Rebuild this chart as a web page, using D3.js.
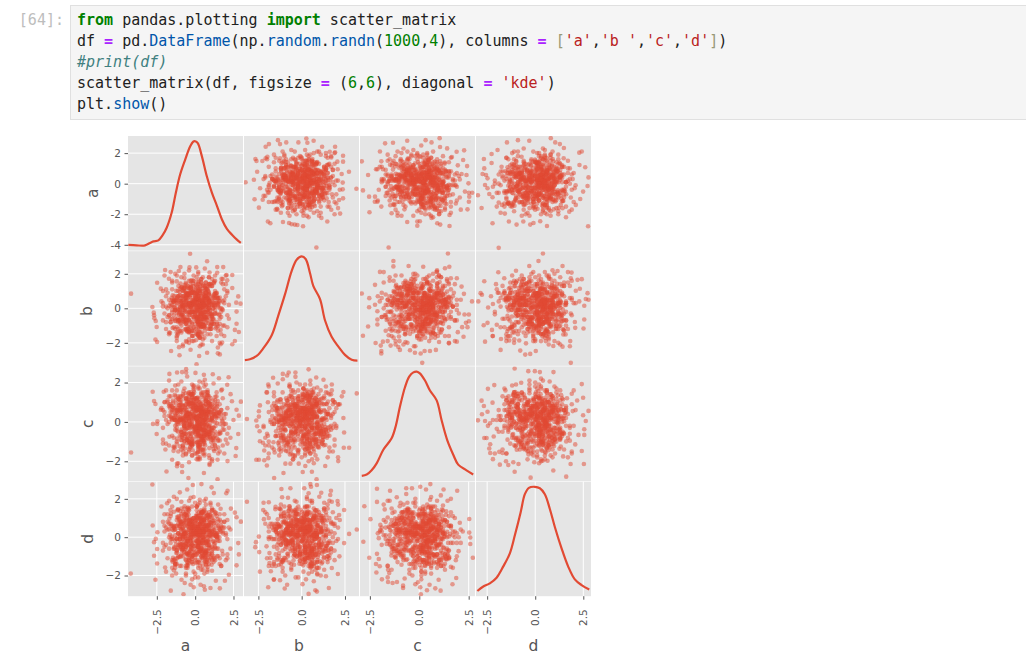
<!DOCTYPE html>
<html><head><meta charset="utf-8">
<script src="https://cdn.jsdelivr.net/npm/d3@7"></script>
<style>html,body{margin:0;padding:0;background:#fff}svg{display:block}text{white-space:pre}</style>
</head><body><script>
// ---------- notebook cell text ----------
const promptLabel = "[64]:";
const codeLines = [
 [["from","kw"],[" pandas.plotting ","tx"],["import","kw"],[" scatter_matrix","tx"]],
 [["df ","tx"],["=","op"],[" pd.","tx"],["DataFrame","fn"],["(np.","tx"],["random","fn"],[".","tx"],["randn","fn"],["(","tx"],["1000","nm"],[",","tx"],["4","nm"],["), columns ","tx"],["=","op"],[" ","tx"],["[","br"],["'a'","st"],[",","tx"],["'b '","st"],[",","tx"],["'c'","st"],[",","tx"],["'d'","st"],["]","br"],[")","tx"]],
 [["#print(df)","cm"]],
 [["scatter_matrix(df, figsize ","tx"],["=","op"],[" (","tx"],["6","nm"],[",","tx"],["6","nm"],["), diagonal ","tx"],["=","op"],[" ","tx"],["'kde'","st"],[")","tx"]],
 [["plt.","tx"],["show","fn"],["()","tx"]]
];
// ---------- variables and axes ----------
const columns = ["a","b ","c","d"];
const domains = [[-4.38,3.12],[-3.33,3.31],[-3.0,2.82],[-3.08,2.9]];
const xTicks = [-2.5,0,2.5];
const xTickLabels = ["\u22122.5","0.0","2.5"];
const yTicks = [[2,0,-2,-4],[2,0,-2],[2,0,-2],[2,0,-2]];
const yTickLabels = [["2","0","-2","-4"],["2","0","\u22122"],["2","0","\u22122"],["2","0","\u22122"]];
// ---------- KDE curves on the diagonal: value, density ----------
const kdeA = [[-4.36,.003],[-3.81,.001],[-3.27,.001],[-2.94,.011],[-2.72,.017],[-2.4,.021],[-2.14,.04],[-1.85,.073],[-1.53,.133],[-1.26,.213],[-.98,.286],[-.65,.346],[-.33,.399],[-.11,.419],[0,.42],[.17,.412],[.44,.359],[.76,.279],[1.09,.213],[1.42,.16],[1.74,.106],[2.07,.067],[2.4,.044],[2.72,.024],[2.98,.011]];
const kdeB = [[-3.28,.003],[-2.99,.006],[-2.6,.019],[-2.22,.048],[-1.73,.099],[-1.35,.175],[-.96,.258],[-.58,.347],[-.29,.391],[0,.404],[.23,.394],[.48,.34],[.67,.29],[1.06,.239],[1.35,.156],[1.73,.093],[2.12,.055],[2.5,.023],[2.89,.004],[3.22,.001]];
const kdeC = [[-2.91,.003],[-2.66,.008],[-2.41,.025],[-2.15,.054],[-1.82,.108],[-1.4,.154],[-1.18,.207],[-.98,.281],[-.72,.361],[-.51,.403],[-.3,.42],[-.13,.423],[.03,.416],[.29,.387],[.54,.347],[.88,.307],[1.13,.227],[1.41,.148],[1.72,.088],[1.97,.048],[2.39,.025],[2.73,.008]];
const kdeD = [[-3.01,.001],[-2.7,.019],[-2.36,.032],[-2.01,.055],[-1.66,.101],[-1.32,.154],[-1.06,.227],[-.76,.32],[-.54,.394],[-.33,.42],[-.02,.424],[.24,.418],[.5,.394],[.76,.334],[1.02,.261],[1.37,.174],[1.71,.101],[2.06,.048],[2.41,.025],[2.81,.007]];
// ---------- dense centre of the cloud: estimated rows, one value per column ----------
const coreA = [.12,-.43,.87,-1.05,.31,1.42,-.18,.64,-.77,.05,-1.36,.49,1.13,-.58,.22,-.91,.73,-.07,1.61,-.29,
-.66,.38,-1.22,.95,.16,-.34,1.27,-.82,.57,-.11,.83,-1.58,.27,-.49,1.04,.41,-.95,.09,-.25,.69,
.44,-1.12,.02,1.33,-.61,.76,-.2,-1.71,.53,.14,-.39,1.18,-.86,.29,.92,-.04,-1.29,.61,-.53,1.49,
-.15,.35,-.72,1.01,-.97,.19,.67,-1.44,.47,-.31,.08,1.24,-.64,.81,-.23,-1.03,.55,1.76,-.45,.11,
.98,-.79,.26,-1.17,.43,-.09,.71,-.56,1.36,.03,-1.51,.59,-.37,.89,-.13,1.09,-.69,.33,-.88,.17,
-1.25,.51,.78,-.27,1.55,-.48,.07,-.99,.37,1.21,-.62,.24,-1.39,.85,-.02,.63,-.76,1.07,-.35,.46,
.15,-.83,1.3,-.52,.39,-1.09,.93,-.16,.6,-1.64,.21,-.41,1.15,-.74,.01,.79,-1.2,.5,-.3,1.44,
-.57,.28,-.93,.69,-.06,1.66,-.44,.13,-1.31,.88,.34,-.68,1.03,-.22,.56,-1.01,.18,-.5,1.25,.42,
-.84,.74,-.12,1.12,-1.47,.3,-.33,.97,.06,-.6,1.39,-.89,.45,-.19,.66,-1.15,.23,.82,-.4,1.58,
.1,-.71,.52,-1.33,.91,-.26,.36,-1.06,1.19,-.47,.75,.04,-.92,.58,-.14,1.28,-.65,.2,-1.53,.4,
-.08,1.06,-.54,.32,-.98,.7,.16,-1.27,.86,-.36,1.47,-.75,.25,.54,-1.11,.01,-.46,1.0,-.21,.62,
.48,-1.41,.84,-.1,.29,-.8,1.22,-.59,.13,.94,-.28,-1.18,.68,-.42,1.35,.06,-.87,.57,-.17,.77,
-.63,.22,1.1,-1.0,.4,-.32,.9,-1.68,.53,-.05,.72,-.51,1.17,-.78,.31,-.24,1.52,-1.13,.44,.09,
.65,-.38,-.94,.27,1.31,-.55,.12,-1.23,.8,.47,-.7,.03,1.05,-.15,.59,-.85,.35,-1.46,.96,-.43,
.19,1.41,-.67,.08,-.3,.73,-1.08,.5,-.12,1.14,-.96,.38,.67,-.52,.24,-1.35,.87,-.2,.55,-.73,
.6,1.2,-.3,.4,-1.5,-.8,-.2,.9,1.7,-.5,.2,-1.1,-1.9,.3,1.4,.7,-.6,.1,-.4,-1.3,
-.9,-.1,1.0,.5,.2,-1.6,1.1,-.7,-.3,-1.2,.8,.3,1.5,2.0,-.2,-.5,.6,-2.1,.1,.4,
1.3,.9,-.4,-.6,-1.0,.2,.5,1.8,-.1,-1.4,-.8,.7,.3,-.2,-1.7,1.1,.6,.0,-.9,1.6,
-.3,-.7,.4,1.2,.1,.8,-1.2,-2.0,.5,.2,-.5,1.4,.9,-.1,-1.1,.3,-.6,2.1,.7,-.4,
.2,-1.5,-.3,.6,1.0,1.9,-.8,.1,-.2,.4,-1.3,.8,-.7,-.1,1.5,.3,-1.8,.5,.9,-.5,
-1.0,-.4,.7,.2,1.3,-.9,.0,-.6,1.7,.4,1.1,-1.6,-.2,.3,-.7,.6,.1,-1.2,2.2,.8,
.5,.1,-.8,-1.4,.3,1.6,-.3,.9,-.5,-2.2,.2,1.2,-.1,.7,-1.1,-.4,1.0,.4,-1.5,.6,
-.6,1.8,.3,-.2,-.9,.5,1.3,.1,-1.7,-.4,.8,.2,-1.0,1.5,-.3,.6,-.1,-1.3,.4,1.1,
.9,-.5,.0,2.0,-1.2,-.7,.6,.2,-.3,1.4,.4,-1.9,.1,.7,-.8,1.0,-.2,.3,-1.4,1.7,
-.1,.5,-1.1,.8,.2,-.6,1.2,-1.6,.4,.0,1.6,-.4,-.9,.3,.6,-1.3,1.9,-.2,.1,-.7,
.3,-.9,1.1,.6,-.5,-1.8,.2,.8,1.4,-.1,-.3,.5,-1.2,.7,2.1,-.6,.4,.0,-1.0,.9,
-1.5,.2,.7,-.4,1.3,.1,-.8,1.0,-.2,.5,-2.0,.3,1.6,-.7,.6,-.1,-1.1,1.2,.4,-.3,
.8,-.6,-1.3,.3,.1,1.5,-.4,.6,-1.7,.2,1.0,-.5,.9,-.2,.4,-1.0,1.8,.0,-.8,.5,
.2,1.3,-.1,-1.6,.7,-.3,.5,-.9,1.1,.3,-.6,1.9,-1.2,.1,.8,-.4,-1.4,.6,.2,1.4,
-.7,.4,.9,-.2,-1.1,1.2,.0,.3,-.5,-1.9,.6,1.7,.1,-.8,.5,-.3,1.0,-1.5,.2,.7,
.4,-1.2,.1,1.6,-.4,.8,-.7,.3,1.3,-.1,-1.4,.5,.2,-.9,1.1,.6,-2.1,-.3,.9,.0,
-.5,.7,-1.0,.2,1.5,-.6,.4,1.9,-.2,.1,-1.7,.8,-.4,1.2,.3,-1.1,.6,-.1,.5,-.8,
1.4,.1,-.3,-1.3,.6,.9,-.7,.2,-1.6,.4,1.1,-.2,.7,-.5,2.0,.3,-1.0,.0,.8,-.9,
-.2,1.7,.5,-.6,-1.2,.3,.9,-.4,.1,1.3,-1.8,.6,-.1,.4,-.7,1.0,.2,-1.5,1.6,-.3,
.7,-1.1,.2,.5,-.2,-.9,1.4,.1,.6,-1.3,-.4,.8,1.8,-.6,.3,-1.0,.0,1.1,-.5,.4];
const coreB = [-.56,.83,.14,-.29,1.37,-.92,.48,1.06,.03,-1.44,.71,-.17,-.65,.26,1.52,-.38,.09,-1.1,.62,.35,
1.19,-.74,.41,-.08,-1.27,.93,.2,-.51,-.99,1.28,.57,.11,-1.63,.78,-.33,.05,1.44,-.6,.87,-.22,
.3,1.02,-.45,-1.16,.67,.16,-.84,1.71,-.27,.52,-.69,.01,1.23,-1.38,.43,.89,-.13,-.57,.74,-1.02,
.95,-.31,1.11,.23,-.76,-.48,.6,.38,-1.5,.07,1.33,-.9,-.19,.55,1.62,-.66,.28,-.04,-1.21,.81,
-.12,.46,-1.33,.7,.18,1.08,-.53,-.82,.33,1.4,-.25,.63,-1.07,.02,.97,-.41,-.71,1.26,.13,-1.56,
.5,-.95,.24,1.17,-.36,.79,-1.19,.06,.58,-.63,1.48,-.15,.39,-.87,.92,-1.3,.21,-.44,.68,1.0,
-.78,.1,.85,-.54,-1.04,1.3,.34,-.23,.75,-1.42,.45,1.15,-.6,.17,-.89,.53,1.56,-.07,-1.12,.29,
.64,-.47,1.21,-.18,.4,-1.25,.04,.91,-.73,.36,-.02,1.35,-.97,.22,-.5,.77,-1.48,.59,.12,-.3,
1.05,-.85,.27,.66,-1.14,.49,-.39,1.42,-.09,-.68,.84,.15,-1.01,.32,1.18,-.58,.73,-.24,-1.36,.44,
-.16,.98,-.79,.08,.56,1.25,-1.09,-.35,.69,.19,-.62,1.09,-.46,.31,-1.6,.82,.0,-.93,.61,1.5,
.25,-1.18,.47,-.28,1.13,.72,-.55,-.1,.96,-1.29,.37,-.77,.54,1.32,-.06,-.42,.86,-1.05,.17,.65,
-.91,.42,1.03,-.2,-.7,.11,1.46,-1.24,.51,-.34,.78,.28,-.59,-1.4,.88,.05,1.2,-.49,.35,-.11,
.6,-1.08,.2,.94,-.32,-.8,1.38,.14,-.61,.47,1.12,-1.31,-.03,.7,-.43,.99,.26,-1.52,.39,-.75,
1.27,-.21,.58,-.96,.09,.83,-.52,1.01,-1.17,.33,-.14,.62,-.83,1.45,.24,-.37,-1.0,.76,.43,-.64,
.16,.9,-1.22,.55,-.26,1.1,-.72,.3,1.6,-.4,-.88,.07,.67,-1.34,.48,-.13,.8,.21,-.57,1.16,
-1.1,.3,.6,1.7,.2,-.4,-1.6,.5,-.2,.8,1.2,-.7,.1,-.9,-.3,1.5,.4,.9,-2.0,.0,
.7,-1.3,-.6,.2,-.1,2.1,.4,-.8,1.1,.3,-.5,-1.7,.6,1.4,-.2,.9,-1.0,.1,.5,-.4,
-.3,.8,1.6,-1.2,.5,-.7,.2,-.1,-1.9,.4,1.0,.7,-.6,.3,-1.4,1.3,.1,-.2,1.8,-.9,
1.2,.1,-.9,.6,-1.5,.3,-.3,1.9,.8,-.5,.2,-1.1,.0,.5,-.7,-2.2,.4,1.0,.9,-.2,
-.8,.5,.3,-.4,1.4,-1.0,.7,.1,-1.3,1.1,-.1,.6,2.0,-.6,.2,-1.7,.9,-.3,.4,.8,
.1,-.7,1.5,-1.6,.6,.4,-.2,.9,-.5,-1.1,1.7,.3,-.9,.0,.7,-.4,1.2,-1.4,.2,-.1,
-2.1,.8,-.3,.5,1.0,-.6,.1,-1.2,1.3,.4,-.8,.2,1.9,-.5,.7,.3,-1.5,.0,1.1,-.2,
.6,-1.0,.9,-.1,.3,-1.8,1.6,.5,-.4,.2,-.7,1.1,.4,-1.3,-.2,.8,.1,2.0,-.6,-.9,
1.4,-.3,.2,.7,-1.1,.5,-.5,1.0,.1,-1.6,.3,-.8,1.8,.6,-.1,-1.2,.9,.4,-.4,.0,
-.2,1.3,-1.4,.6,.1,-.9,.8,-.6,1.5,-.3,.4,2.2,-1.0,.2,-.7,.5,1.1,-1.9,.3,-.1,
.9,.4,-.5,-1.7,1.2,.0,.7,-.2,-.8,.3,1.6,-1.1,.5,.1,-.4,1.4,-.6,.8,-1.3,.2,
-.1,-1.5,.6,.3,1.9,-.7,.2,-1.0,.9,.5,-.3,.1,-2.0,1.2,.4,-.5,.7,1.5,-.9,.0,
.3,.8,-1.2,1.1,-.4,.6,-1.8,.1,.5,-.2,1.3,-.7,.9,.2,-1.4,-.1,1.7,.4,-.6,-1.0,
1.0,-.3,.4,-.8,.7,1.4,-.1,-1.3,.2,-.6,.9,.5,-1.6,.3,1.2,-.4,.1,-1.1,2.1,.6,
-.5,.2,1.8,.0,-1.2,.4,.7,-.9,-.2,1.1,.6,-1.5,.3,-.7,.1,.9,-.3,1.5,-1.0,.5,
.2,-1.9,.6,-.4,.8,1.3,-.6,.1,-.1,1.6,-1.1,.4,.7,-.3,-.8,.5,1.0,-1.4,.0,.3,
-1.2,.9,-.2,.5,.1,-.7,1.7,.3,-1.6,.6,-.4,1.1,.2,-.9,.8,-.1,1.3,-.5,.4,-2.1,
.7,.0,1.2,-.6,-1.0,.4,.2,1.4,-.8,.5,-.3,-1.3,.9,.1,1.9,-.2,-.7,.6,-1.5,.3,
-.4,1.5,.1,-.9,.6,-1.7,.8,.3,-.1,1.0,-.5,.2,-1.1,.7,.4,-1.2,1.6,-.6,.0,.9,
.5,-.8,.3,1.8,-.2,-1.4,.6,.1,.9,-.7,1.2,-.4,.4,-1.9,.2,-.1,.7,1.3,-1.0,-.3];
const coreC = [.33,.91,-.62,.08,-1.17,.44,1.25,-.29,-.83,.57,.19,-1.41,.76,-.05,1.03,-.52,.28,1.5,-.94,.12,
-.37,-.71,1.12,.49,.02,-1.28,.65,.86,-.16,-.55,1.37,.24,-1.03,.39,-.45,.7,.1,-1.6,.95,1.18,
-.88,.53,.17,-.21,1.46,-.66,-1.09,.31,.82,-.4,.04,1.09,-.77,.6,-1.33,.26,1.3,-.12,.47,-.96,
.72,-.34,-.58,1.21,.15,-1.2,.41,.98,-.73,-.09,.55,-1.48,.29,1.6,-.25,.84,-.6,.06,1.14,-1.05,
-.19,1.32,.37,-.85,.63,-.48,.01,1.07,-1.36,.22,.79,-.69,-.14,.5,1.41,-.31,-.99,.13,.68,-1.55,
.93,-.42,.21,-1.12,.46,.75,-.79,1.27,-.07,.35,-.61,1.0,-1.25,.58,-.27,.11,1.55,-.9,.4,-.5,
-1.02,.16,.89,.43,-.35,1.19,-.64,-1.44,.27,.71,-.18,.97,-.82,.05,.52,1.35,-.44,-1.14,.3,.78,
.61,-.23,-.92,1.05,.18,-.56,1.44,-.11,-1.3,.38,.86,-.74,.03,.67,-1.0,.25,-.47,1.23,.54,-.3,
-.67,1.1,.32,-1.22,.74,-.03,-.54,.92,.2,-1.65,1.29,-.39,.48,-.84,.13,.6,-.15,1.01,-1.07,.42,
.07,-.98,.56,1.38,-.28,-.76,.23,.83,-1.38,.45,-.59,1.16,-.08,.34,.94,-1.16,.69,-.43,.15,1.48,
-.24,.51,-1.08,.77,.09,-.65,1.24,.36,-.87,-.17,1.06,.62,-1.27,.19,-.5,.88,.28,-.7,1.34,-.04,
.4,-1.47,.99,-.33,.6,.14,-.8,1.15,-.2,.73,-1.1,.47,-.55,1.02,.24,-.38,-.93,.66,1.42,-.13,
.85,-.63,.12,-1.24,.53,.96,-.26,-.75,.38,1.2,-.46,.02,.7,-1.5,.31,1.11,-.6,.17,-.1,.81,
-1.19,.44,.64,-.36,1.28,-.89,.08,.55,-.68,1.36,-.22,.27,-1.02,.9,.49,-.53,.16,1.08,-.78,.33,
.59,-.06,-1.35,.74,.22,-.44,1.17,-.95,.37,.03,.87,-.72,1.52,-.32,-.57,.11,.79,-1.13,.5,-.2,
-.4,-1.0,.8,.2,.5,-1.7,-.1,1.3,.6,-.8,-.3,1.9,.1,-1.2,.9,.4,-.6,.0,1.5,-.2,
1.1,.7,-.5,-1.4,.3,.9,-2.0,.2,-.7,1.6,.5,-.1,-.9,.4,1.2,-.3,.1,-1.1,.6,.8,
.3,-.6,-1.5,.1,1.0,.7,-.2,-.4,1.8,.2,-1.3,.5,-.9,1.4,.0,.6,-.7,-1.6,.9,-.1,
-1.1,1.7,.4,-.3,.2,-.8,.6,1.0,-.5,-1.9,.3,.7,.1,-1.0,1.3,-.2,.5,-.6,.9,.4,
.0,.6,-1.3,1.2,-.4,.2,.8,-.7,-1.2,.5,.1,1.5,-.3,.9,-1.6,.3,-.1,2.0,-.5,-.9,
.7,-.2,.4,-1.4,1.1,.1,-.6,.3,1.6,-1.0,-.4,.8,.2,-1.8,.6,-.7,1.2,.0,-.3,.5,
-.8,.9,.2,.6,-1.1,-.5,1.4,.3,-.1,.7,-1.5,.4,1.0,-.2,-2.1,.5,.8,-.9,.1,1.3,
.4,-1.2,-.3,1.9,.6,.0,-.7,.2,.9,-1.4,.5,-.6,1.1,.3,-.1,-1.0,1.7,.7,-.4,.2,
-.5,.3,1.2,-.9,.1,.8,-1.7,-.2,.4,1.5,.6,-1.1,-.3,.9,.0,-.8,.5,1.0,-1.3,.2,
1.6,-.4,.7,.1,-1.0,.3,-.6,1.3,.5,-.2,-1.5,.9,.2,-.7,1.8,.4,-.1,-1.2,.6,.0,
-.3,.5,-1.9,.8,.2,1.1,-.5,.4,-.8,.6,1.4,-.1,-1.1,.3,.7,-.4,-1.4,1.0,.1,.9,
.2,-.7,.6,1.3,-1.2,-.2,.4,.9,.0,-1.6,.5,1.7,-.6,.1,-.9,1.1,.3,-.3,.8,-1.0,
-.1,1.2,-.4,.5,.7,-1.3,.1,-.8,2.1,.3,-.6,.2,1.0,-1.7,.4,.6,-.2,-.5,1.4,-.9,
.8,.0,-1.1,.3,-.3,1.5,.6,-1.4,.2,-.7,.9,.4,-.1,1.2,-.5,-1.0,.7,.1,-1.8,.5,
-.6,.3,1.1,-.2,-1.5,.4,.8,.1,-.9,1.6,-.4,.6,.2,-1.2,1.0,-.3,.5,-.7,.0,1.9,
.5,-1.0,.2,.9,-.6,1.3,-.1,-1.3,.4,.7,-.8,.1,1.7,-.5,.3,-1.6,.6,1.1,-.2,-.4,
1.0,.2,-.7,-1.1,.5,.3,1.4,-.4,.1,-1.9,.8,.6,-.3,-.9,1.2,.0,-.6,.4,1.5,-1.2,
.3,-.5,.9,.1,-1.4,.7,-.2,1.8,.5,-.8,.2,-1.0,1.1,.4,-.1,-1.5,.6,-.3,.8,1.3,
-.9,.4,.0,1.2,-.3,.6,-1.7,.2,.7,-.5,1.0,-1.1,.3,.9,-.2,.1,-1.3,1.6,.5,-.6,
.6,-.1,-1.2,.4,.8,-.7,.2,1.1,-.4,.3,-1.0,1.5,.0,-1.6,.7,.5,-.3,.9,-.8,.1];
const coreD = [-.21,.36,1.08,.59,-.74,-.13,.82,-1.26,1.31,.45,-.52,-.96,.17,1.15,-.33,.68,-1.47,.04,.91,-.62,
.27,1.4,-.07,-.88,.53,.76,-1.11,-.4,.2,.99,-.69,1.22,.38,-1.34,.61,-.17,-.49,1.03,.11,-.81,
1.27,-.58,.85,.06,-.3,-1.19,.47,.72,-1.02,.3,1.5,-.24,-.66,.93,-.44,.13,-1.39,.56,1.12,.01,
-.92,.63,.24,-.55,1.36,.41,-.78,-1.08,.7,-.12,.88,-.36,1.19,-1.55,.18,.5,-.03,-.71,1.44,.33,
.79,-1.0,-.27,1.05,-.6,.42,.14,-.85,1.26,-.46,-.09,.95,-1.22,.66,.28,-.5,1.61,-.76,.09,.54,
-.39,.22,-1.3,.84,.48,-.94,1.1,.02,-.65,.73,-1.15,.35,1.33,-.2,.6,-.83,.16,-1.44,.97,-.31,
1.0,.44,-.57,-.15,1.25,-1.05,.31,.69,-.79,.12,.52,-1.37,.86,-.42,.25,1.17,-.68,.4,-.05,-.98,
.07,-1.21,.77,.34,-.47,1.48,-.89,.19,.58,-.26,1.01,-.63,-1.1,.46,.9,-.11,.29,-1.5,.75,1.3,
-.53,.64,-.18,.98,-1.28,.37,-.72,1.14,.23,-.35,.05,.81,-1.07,.5,-.86,1.39,.15,-.43,.67,-.01,
1.2,-.77,.43,-1.16,.1,.71,-.32,.92,-.6,1.55,-.23,.26,-.99,.57,-1.4,.39,.83,-.14,.03,-.7,
.49,1.07,-.84,.2,-.41,1.29,-.54,-1.24,.62,.13,.94,-.28,-.75,.32,1.43,-.91,.08,.74,-1.13,.55,
-.16,.36,1.16,-.64,-1.33,.47,.87,-.06,-.48,1.06,.21,-.8,.65,-1.18,.11,.4,-.34,1.34,-.93,.6,
.78,-.25,.04,-1.03,1.23,.3,-.56,.96,-.73,.17,1.11,-1.45,.51,-.1,.69,-.38,.24,1.46,-.87,-.19,
-1.09,.85,.41,-.61,.15,1.02,-.29,-.82,.53,1.35,.06,-1.2,.72,-.45,.28,-.67,.99,-.08,.35,1.18,
-.5,.19,.61,-1.36,.89,-.22,1.09,.43,-.95,.12,-.37,.76,-1.04,.55,1.28,-.59,.02,.93,-.15,.33,
.8,.3,-.2,-.6,1.6,.1,-1.3,-.9,.5,-.4,1.1,.2,-1.8,.7,.0,-.3,.9,1.4,-1.1,.4,
-1.5,.6,.2,.9,-.8,-.1,.3,1.2,-.5,2.0,-.2,.7,-1.0,.1,.4,-1.6,.8,-.7,.5,1.3,
.1,-.4,1.9,-1.2,.6,-.3,.2,-.9,1.0,.5,-.1,-1.4,.3,.8,-.6,1.5,.0,-2.1,.7,.4,
-.7,1.1,.4,-.2,.3,-1.1,.9,.6,-1.7,-.4,1.3,.1,.5,-.8,.2,1.8,-.5,-.1,-1.3,.7,
.5,-1.6,-.3,1.4,.1,.8,-.6,.2,-1.0,.9,.4,-.7,1.0,.3,-.2,-1.5,1.2,.0,.6,-.9,
-.1,.7,1.7,-.5,-1.2,.4,.2,-1.9,.6,.3,-.8,1.1,-.4,.1,1.5,-.3,.9,-1.1,.5,.0,
1.3,-.9,.1,.6,-.4,-1.4,.8,.3,-.2,1.6,.5,-1.3,.7,-.7,.2,.4,-.1,1.0,-2.0,.9,
-.6,.2,.5,-1.0,1.2,.0,-.3,.7,1.9,-.8,.1,.4,-1.5,.6,-.5,1.1,.3,-.2,.8,-1.2,
.4,1.5,-1.1,.2,-.7,.9,-.1,-1.6,.3,.6,1.2,-.4,.0,-.9,.5,1.7,-1.3,.1,-.6,.8,
-.3,.1,.7,-1.8,.4,-.5,1.4,.6,-1.0,.2,-.2,.9,1.1,-.7,.3,-1.4,.5,.0,1.6,-.8,
1.0,-.6,.3,.5,-1.3,.8,.1,-.4,.2,2.1,-1.1,-.2,.6,.4,-.9,1.3,-1.7,.7,-.1,.3,
-1.2,.4,-.8,.9,.2,1.6,-.5,.1,.6,-1.5,.3,-.3,1.2,.0,-.7,.5,1.0,-1.0,.8,-.2,
.6,.2,-1.4,.3,1.1,-.6,.7,-.9,.4,.1,1.8,-.2,-1.2,.5,-.4,.9,.3,-1.9,.0,1.3,
-.5,1.2,.1,-.3,-1.0,.6,.4,1.5,-.7,.2,-1.6,.8,-.1,.3,1.0,-.9,.5,-1.3,1.7,.0,
.2,-.8,1.3,.6,-.4,-1.1,.9,.1,-.2,.5,.3,-1.5,1.6,-.6,.7,.0,-1.0,.4,1.1,-.3,
.9,-.1,-.7,.4,1.4,-1.7,.2,.6,-.5,1.0,-1.2,.3,.1,.8,-.9,1.9,-.3,.5,-1.4,.2,
-.4,.6,.1,-1.3,.8,.3,-.6,1.2,-2.2,.5,.0,1.0,-.8,.4,-.1,-.5,1.5,.2,-1.1,.7,
1.1,-.2,.5,-1.6,.3,.9,-.4,.0,.7,-1.0,1.4,.2,-.7,.6,-1.2,.1,-.3,1.8,.4,-.9,
-.6,.3,1.0,.2,-1.4,-.1,.8,.5,-.9,1.3,.4,-.5,-1.8,.1,.7,1.2,-.2,.6,-1.1,.0,
.4,-1.0,.7,-.3,1.6,.2,-.6,-1.3,.9,.1,-.4,1.1,.5,-1.5,.3,.8,-.8,1.4,-.1,.6];
// ---------- outer points: [later column, earlier column] ----------
const edgeAB = [[-3.24,.09],[3.16,-.33],[.85,-4.18],[.08,-2.79],[-.25,-2.7],[-.4,-2.68],[-.58,-2.66],[-.73,-2.57],[-1.08,-2.51],[-1.81,-2.59],[-1.95,-2.48],[1.14,-2.24],[1.48,-2.48],[2.22,-1.96],[-2.47,-1.57],[-2.72,-1.02],[-2.76,.26],[-2.57,.78],[-2.67,1.61],[-2.61,1.48],[-2.27,1.48],[-2.08,1.66],[-1.98,1.76],[-2.08,2.42],[-1.89,2.59],[-1.37,2.85],[-1.25,2.59],[-.89,2.7],[-.19,2.7],[.27,2.96],[.33,2.68],[.69,2.81],[1.18,2.42],[1.62,2.09],[1.93,2.42],[1.93,2.05],[2.39,1.83],[2.73,.78],[2.06,1.44],[2.39,1.44],[1.71,1.72],[2.08,.94],[2.31,.63],[2.37,.07],[2.37,-.37],[2.16,-1.07],[2.39,-.96],[-2.4,-.3],[-2.2,-.8],[-2.1,.4],[-1.9,1.1],[-1.7,-1.2],[-1.5,-1.7],[-1.2,-1.9],[-.7,-2.1],[.3,-2.1],[.7,-1.9],[1.6,-1.5],[1.9,-1.2],[2,.2],[1.8,.9],[1.4,1.8],[.9,2.1],[-.6,2.2],[-1.1,2.1],[-1.6,1.9],[-2.25,-1.05],[-1.95,-.55],[-1.85,.05],[1.75,-.7],[1.55,1.25]];
const edgeAC = [[-2.91,1.46],[-2.59,.57],[-2.85,-.44],[-2.54,-.85],[-2.52,-1.87],[-1.55,-4.18],[-1.99,2.11],[-1.73,2.64],[-1.33,2.68],[-1.92,1.46],[-2.19,.94],[-2.12,.94],[-1.84,.94],[-2.25,-1.18],[-2.12,-1.18],[-1.92,-1.5],[-2.24,-.85],[-1.4,-1.94],[-.61,2.81],[-.61,-2.51],[-.1,-2.48],[-.1,-2.75],[.03,-2.46],[.32,2.85],[.62,2.7],[1.03,2.98],[.91,-2.59],[1.06,-2.68],[1.53,-2.77],[.62,-2.24],[1.53,-2.05],[1.01,-1.98],[2.27,2.18],[1.89,2.09],[1.41,2.31],[2.22,1.55],[2.42,1.15],[2.39,.57],[2.05,.28],[2.14,.63],[2.49,.02],[2.68,-.59],[2.51,-.59],[2.31,-.52],[2.53,-.85],[2.51,-1.18],[2.44,-1.68],[1.85,-1.3],[1.65,1.75],[1.05,2.4],[1.2,1.8],[-1.7,-.2],[-1.9,.3],[-2.05,-.4],[-1.6,1.9],[-1.1,2.1],[-.8,2.3],[.1,2.5],[-.9,-2.1],[-1.2,-1.7],[-.3,-2.1],[.3,-2],[1.3,-1.7],[2.05,-.9],[1.95,1.2],[1.85,-.1]];
const edgeAD = [[-2.98,-.76],[-2.79,-1.59],[-2.22,-2.59],[-1.9,-4.2],[-1.58,-1.96],[-1.37,-2.48],[-.97,-2.68],[-.62,-2.48],[-.26,-2.68],[-.09,-2.57],[.26,-2.46],[.61,-2.77],[2.75,-2.79],[1.77,-1.83],[1.42,-1.61],[2.11,-1.39],[2.34,-1],[2.49,-.52],[2.72,-.15],[2.77,.41],[2.6,1.07],[2.3,1.22],[2.29,2.03],[2.42,2.11],[1.49,2.33],[1.28,2.59],[1.04,2.7],[.81,2.98],[-.31,2.81],[-.9,2.85],[-1.47,2.7],[-1.96,2.2],[-2.27,1.94],[-2.67,1.61],[-2.27,1.35],[-2.65,1],[-2.74,.63],[-2.56,.57],[-2.48,.35],[-2.61,-.09],[-2.48,-.3],[-2.39,-.68],[-2.22,-.89],[-1.9,-1.24],[-1.73,-1.39],[-1.9,.6],[-2.1,.2],[-1.75,1.1],[-1.5,1.7],[-1.1,2.1],[-.6,2.3],[.4,2.3],[.9,2.1],[1.7,1.5],[2,.7],[2.05,-.3],[1.85,-.9],[1.2,-2],[.8,-2.1],[-.5,-2],[-1.1,-1.8],[-1.45,-1.3],[-2,-.6],[1.95,.3]];
const edgeBC = [[1.45,3.18],[-1.31,2.74],[-1.31,2.43],[-1.99,2.11],[-2.91,.86],[-2.53,.59],[-2.54,.06],[-2.24,1.36],[-2.24,.21],[-2.12,-.17],[-2.12,-.65],[-2.12,-.94],[-2.59,-1.05],[-2.85,-1.59],[-2.21,-2.01],[-1.84,-1.93],[-1.95,-2.16],[-1.92,-2.47],[-1.92,-2.62],[-1.45,-2.16],[-1.06,-2.24],[-.98,-2.41],[-.47,-2.43],[-.27,-2.2],[-.22,-2.57],[.15,-3.16],[.07,-2.62],[.27,-2.47],[.54,-2.47],[.84,-2.41],[1.5,-2.03],[1.9,-1.93],[1.95,-1.38],[2.24,-1.65],[2.17,-1.09],[2.44,-1.09],[2.36,-.84],[2.51,-.75],[2.29,-.36],[2.51,-.36],[2.67,.4],[2.26,.84],[2.14,1.26],[1.9,1.74],[1.6,1.74],[1.52,2.41],[1.3,2.32],[.88,2.13],[.2,2.41],[-.54,2.45],[-1.8,1.5],[-1.5,1.8],[-.9,1.9],[-.2,2],[.5,1.9],[1.1,1.8],[-1.9,.9],[-1.75,-.4],[-1.7,-1.3],[-1.3,-1.7],[-.7,-1.95],[.5,-1.9],[1,-1.95],[1.3,-1.6],[1.8,-.7],[1.9,.2],[1.75,.9]];
const edgeBD = [[.4,3.18],[.17,2.74],[-1.92,2.09],[-2.65,1.57],[-2.96,.4],[-2.77,.79],[-2.84,.88],[-2.61,-1.93],[-2.68,-.98],[-2.48,-.84],[-2.25,-1.25],[-2.22,-1.61],[-1.78,-1.78],[-1.8,-2.41],[-1.35,-1.86],[-1.09,-1.8],[-.83,-1.86],[-.78,-2.45],[-.52,-2.68],[-.26,-2.64],[-.48,-2.03],[.03,-2.47],[.55,-1.9],[1.85,-3.16],[.94,-2.18],[1.42,-2.22],[1.82,-1.9],[1.58,-1.51],[2.08,-1.13],[2.51,-1.17],[2.55,-.65],[2.06,-.79],[2.63,.54],[2.77,.5],[2.55,.15],[2.29,.4],[2.72,.88],[2.32,1.13],[2.11,1.02],[2.2,1.65],[2.42,1.69],[1.85,1.74],[1.89,2.07],[1.42,2.45],[1.16,2.16],[-.31,2.45],[-1,2.18],[-1.61,1.74],[-2.04,1.4],[-2.3,.7],[-2.2,.25],[-2.45,.05],[-2.1,-.35],[-1.95,.9],[-1.3,1.5],[-.7,1.9],[.5,2.1],[.8,1.7],[1.5,1.5],[1.9,.6],[1.85,-.3],[1.6,-1],[.3,-1.9],[-.9,-1.5],[-1.6,-1.1],[-2,-.95]];
const edgeCD = [[-1.07,2.71],[-.36,2.58],[-.02,2.58],[.24,2.53],[.95,2.53],[-.73,1.99],[-2.13,1.87],[-2.46,1.68],[2.42,1.92],[2.49,1.23],[2.18,1.09],[1.9,1.43],[-2.79,1.08],[-2.67,.81],[-2.22,.98],[-2.98,.08],[-2.61,.05],[-2.48,.52],[-2.77,.39],[-2.35,-.07],[-2.46,-.2],[-2.65,-.82],[-2.53,-.82],[-2.16,-.74],[-2.34,-1.13],[-2.39,-1.35],[-2.34,-1.58],[-2.2,-1.89],[-1.87,-1.52],[-1.7,-1.58],[-1.84,-2.17],[-1.52,-2],[-1.4,-2.19],[-1.14,-2.05],[-.87,-2.14],[-1.07,-2.53],[-.24,-2.83],[-.05,-2.05],[.38,-1.97],[.64,-1.97],[.94,-2.47],[1.61,-2.78],[1.84,-2.14],[2.53,-2.14],[2.42,-1.48],[2.08,-1.14],[2.55,-.66],[2.25,-.66],[2.55,-.37],[2.77,.56],[2.63,.05],[2.49,.34],[1.45,-1.75],[-.3,2.1],[.3,2.2],[.75,2.05],[1.3,1.6],[1.65,1.2],[-1.6,1.7],[-1.2,1.85],[-1.9,.6],[-2,-.35],[1.95,.55],[2,-.2],[1.8,-.95],[.9,-1.8]];
const edgePairs = {"0-1":edgeAB,"0-2":edgeAC,"0-3":edgeAD,"1-2":edgeBC,"1-3":edgeBD,"2-3":edgeCD};
const coreCols = [coreA,coreB,coreC,coreD];
const kdes = [kdeA,kdeB,kdeC,kdeD];

// ---------- layout and drawing ----------
const W=1026,H=668, px0=128,pStepX=116,pW=115, py0=136,pStepY=115.2,pH=114.6;
const red="#E24A33",grey="#555555";
const svg=d3.select("body").append("svg").attr("width",W).attr("height",H).attr("viewBox",`0 0 ${W} ${H}`);
svg.append("rect").attr("x",70.5).attr("y",5.5).attr("width",W).attr("height",114).attr("fill","#f5f5f5").attr("stroke","#e0e0e0");
const mono="'DejaVu Sans Mono',monospace";
svg.append("text").attr("x",64).attr("y",25).attr("text-anchor","end").attr("font-family",mono).attr("font-size",15).attr("fill","#bdbdbd").text(promptLabel);
const tokenStyle={kw:{f:"#008000",w:"bold"},tx:{f:"#212121"},op:{f:"#aa22ff",w:"bold"},fn:{f:"#0055aa"},nm:{f:"#008000"},st:{f:"#ba2121"},br:{f:"#999977"},cm:{f:"#408080",s:"italic"}};
codeLines.forEach((line,i)=>{
  const t=svg.append("text").attr("x",77).attr("y",25+21*i).attr("font-family",mono).attr("font-size",15);
  line.forEach(([s,k])=>{const st=tokenStyle[k];t.append("tspan").attr("fill",st.f).attr("font-weight",st.w||null).attr("font-style",st.s||null).text(s);});
});
const sans="'DejaVu Sans',sans-serif";
const defs=svg.append("defs");
const n=columns.length;
const xs=columns.map((c,j)=>d3.scaleLinear().domain(domains[j]).range([px0+pStepX*j,px0+pStepX*j+pW]));
const ys=columns.map((c,i)=>d3.scaleLinear().domain(domains[i]).range([py0+pStepY*i+pH,py0+pStepY*i]));
for(let i=0;i<n;i++)for(let j=0;j<n;j++){
  const x=xs[j],y=ys[i],id=`p${i}${j}`;
  const [l,r]=x.range(),[b,t]=y.range();
  defs.append("clipPath").attr("id",id).append("rect").attr("x",l).attr("y",t).attr("width",r-l).attr("height",b-t);
  const g=svg.append("g");
  g.append("rect").attr("x",l).attr("y",t).attr("width",r-l).attr("height",b-t).attr("fill","#E5E5E5");
  if(j===0)g.selectAll(".gy").data(yTicks[i]).join("line").attr("x1",l).attr("x2",r).attr("y1",d=>y(d)).attr("y2",d=>y(d)).attr("stroke","#fff").attr("stroke-width",1);
  if(i===n-1)g.selectAll(".gx").data(xTicks).join("line").attr("y1",t).attr("y2",b).attr("x1",d=>x(d)).attr("x2",d=>x(d)).attr("stroke","#fff").attr("stroke-width",1);
  const body=g.append("g").attr("clip-path",`url(#${id})`);
  if(i===j){
    const data=kdes[i];
    const [d0,d1]=d3.extent(data,d=>d[1]),m=(d1-d0)*.05;
    const ky=d3.scaleLinear().domain([d0-m,d1+m]).range([b,t]);
    body.append("path").attr("d",d3.line().x(d=>x(d[0])).y(d=>ky(d[1])).curve(d3.curveCatmullRom)(data)).attr("fill","none").attr("stroke",red).attr("stroke-width",2.2);
  }else{
    const upper=i<j, key=upper?`${i}-${j}`:`${j}-${i}`;
    const core=coreCols[i].map((v,k)=>[coreCols[j][k],v]);
    const edge=edgePairs[key].map(p=>upper?[p[0],p[1]]:[p[1],p[0]]);
    body.selectAll("circle").data(core.concat(edge)).join("circle").attr("cx",d=>x(d[0])).attr("cy",d=>y(d[1])).attr("r",2.3).attr("fill",red).attr("fill-opacity",.5);
  }
}
columns.forEach((c,i)=>{
  const y=ys[i],ax=svg.append("g").attr("transform",`translate(${px0},0)`).attr("font-family",sans);
  ax.call(d3.axisLeft(y).tickValues(yTicks[i]).tickSize(3.5).tickPadding(3.5).tickFormat((d,k)=>yTickLabels[i][k]));
  ax.select(".domain").remove();
  ax.selectAll("line").attr("stroke",grey);
  ax.selectAll("text").attr("fill",grey).attr("font-size",10.5).attr("font-family",sans);
  const ly=(y.range()[0]+y.range()[1])/2;
  svg.append("text").attr("transform",`translate(${[92.5,86.5,87.5,87.5][i]},${ly}) rotate(-90)`).attr("text-anchor","middle").attr("dy","0.35em").attr("font-family",sans).attr("font-size",15.5).attr("fill",grey).text(c);
});
columns.forEach((c,j)=>{
  const x=xs[j],base=py0+pStepY*(n-1)+pH,ax=svg.append("g").attr("transform",`translate(0,${base})`);
  ax.call(d3.axisBottom(x).tickValues(xTicks).tickSize(3.5).tickFormat((d,k)=>xTickLabels[k]));
  ax.select(".domain").remove();
  ax.selectAll("line").attr("stroke",grey);
  ax.selectAll("text").attr("fill",grey).attr("font-size",10.5).attr("font-family",sans).attr("transform","rotate(-90)").attr("text-anchor","end").attr("x",-13).attr("y",0).attr("dy","0.35em");
  svg.append("text").attr("x",(x.range()[0]+x.range()[1])/2).attr("y",651).attr("text-anchor","middle").attr("font-family",sans).attr("font-size",15.5).attr("fill",grey).text(c);
});
</script></body></html>
